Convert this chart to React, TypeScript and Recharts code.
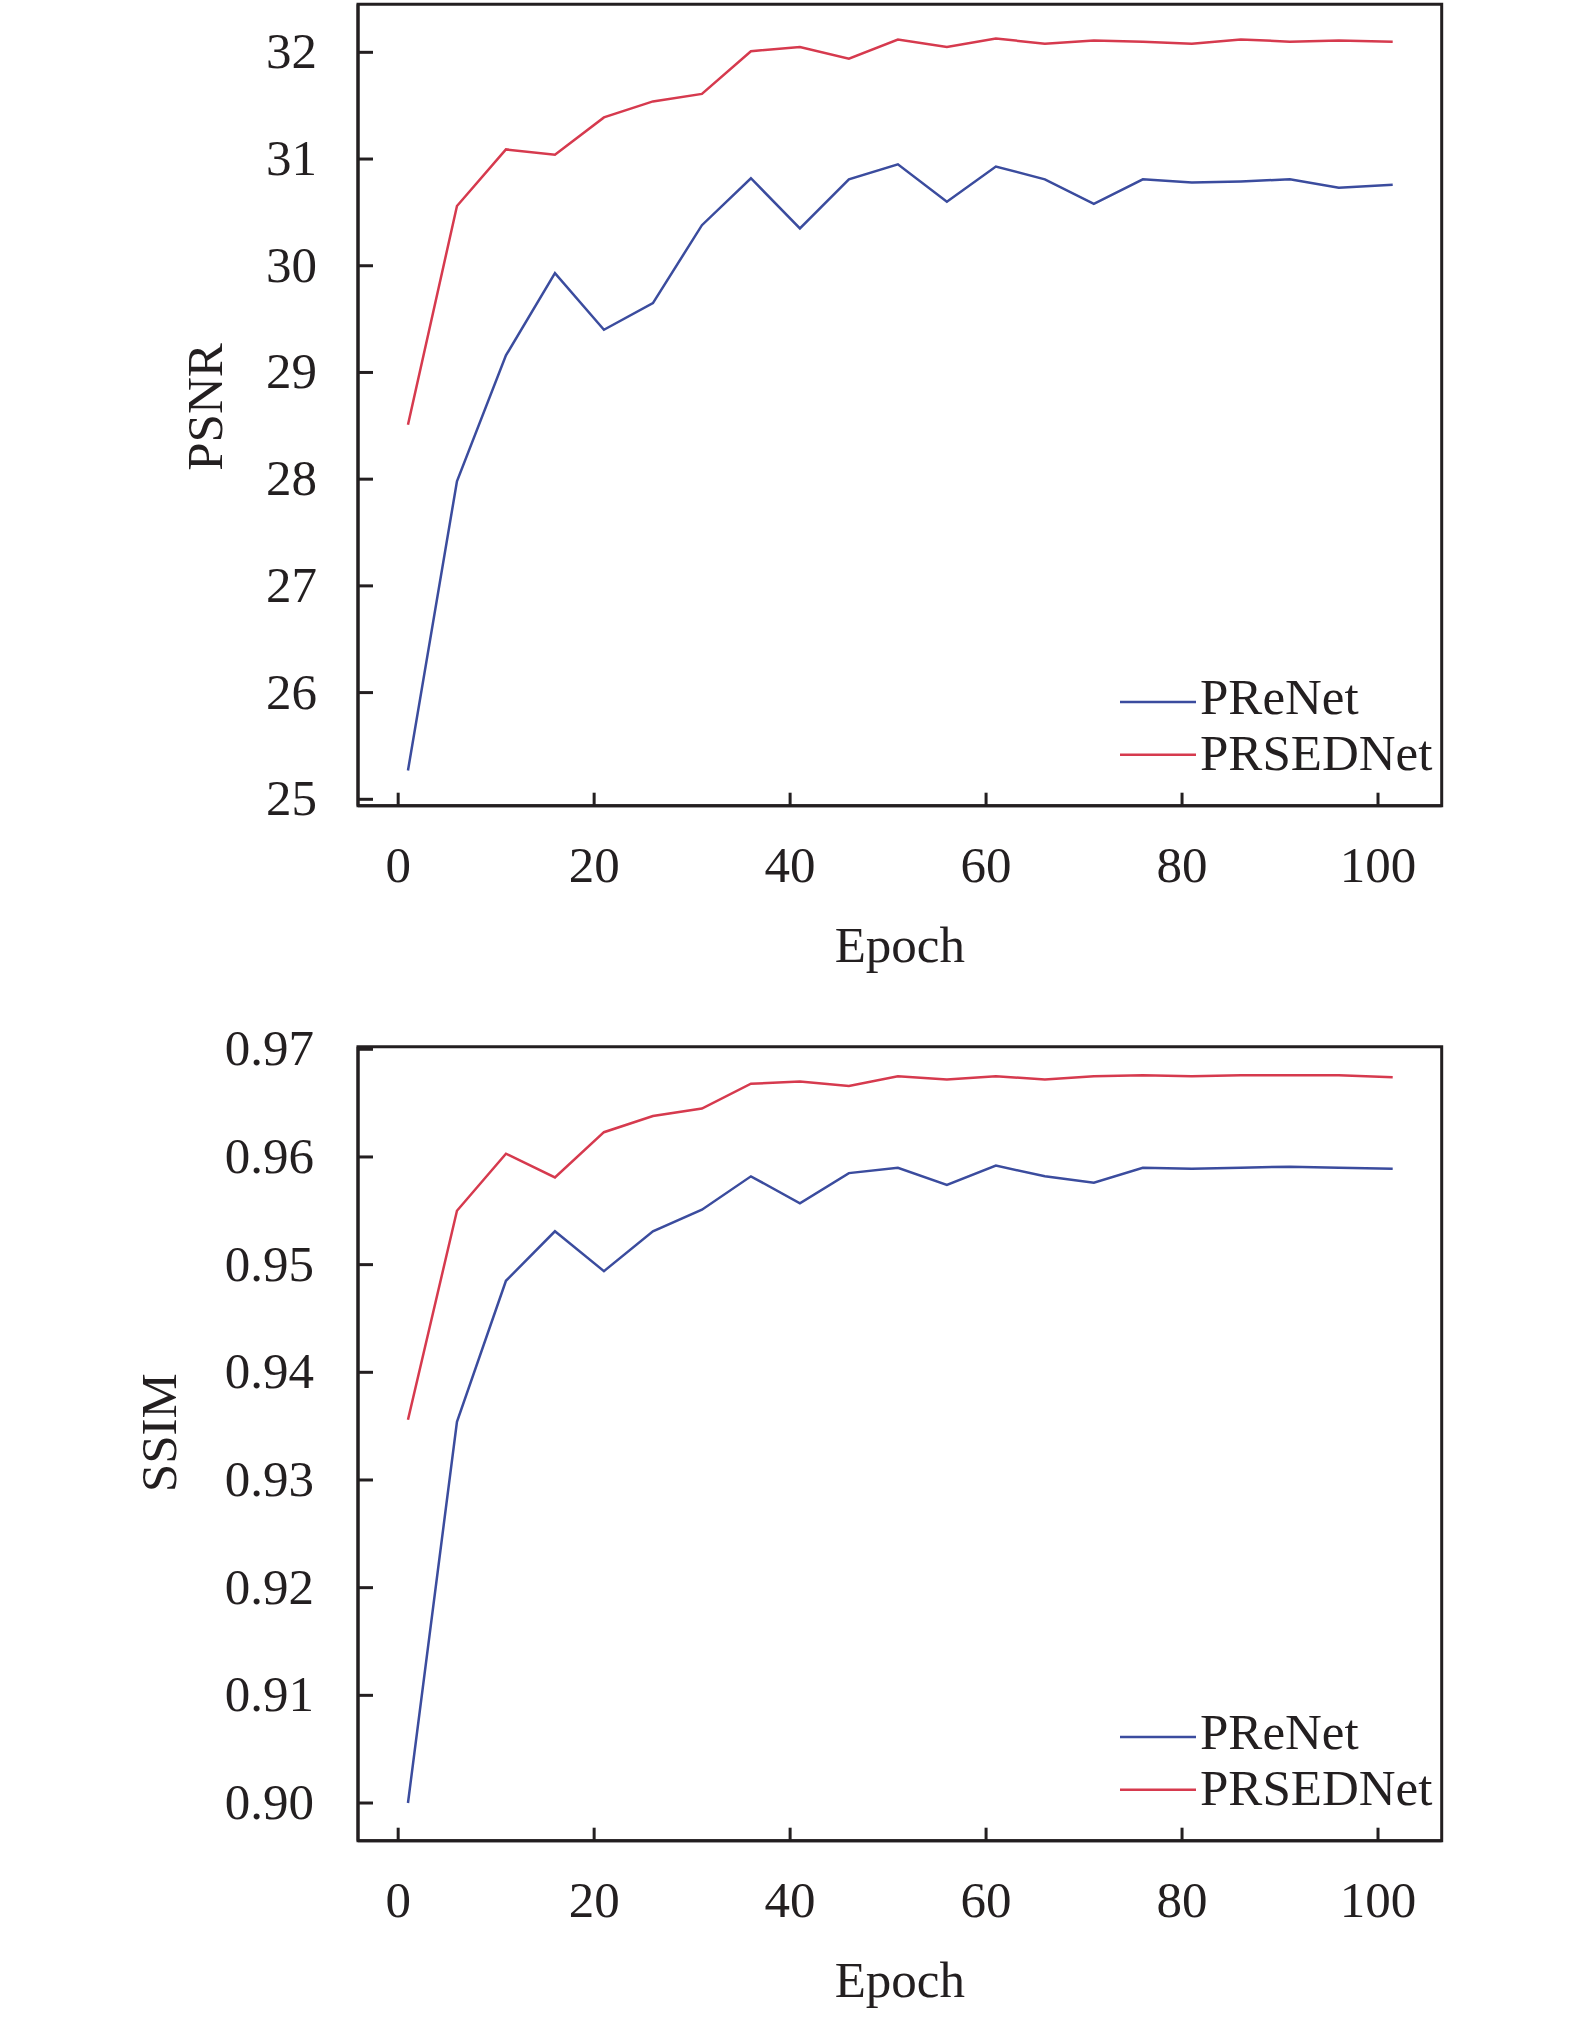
import React from 'react';
import { Legend, Line, LineChart, ReferenceArea, XAxis, YAxis } from 'recharts';

const epochs = [1, 6, 11, 16, 21, 26, 31, 36, 41, 46, 51, 56, 61, 66, 71, 76, 81, 86, 91, 96, 101.5];

const psnrPrenet = [25.27, 27.98, 29.16, 29.93, 29.4, 29.65, 30.38, 30.82, 30.35, 30.81, 30.95, 30.6, 30.93, 30.81, 30.58, 30.81, 30.78, 30.79, 30.81, 30.73, 30.76];
const psnrPrsednet = [28.51, 30.56, 31.09, 31.04, 31.39, 31.54, 31.61, 32.01, 32.05, 31.94, 32.12, 32.05, 32.13, 32.08, 32.11, 32.1, 32.08, 32.12, 32.1, 32.11, 32.1];

const ssimPrenet = [0.9, 0.9354, 0.9485, 0.9531, 0.9494, 0.9531, 0.9551, 0.9582, 0.9557, 0.9585, 0.959, 0.9574, 0.9592, 0.9582, 0.9576, 0.959, 0.9589, 0.959, 0.9591, 0.959, 0.9589];
const ssimPrsednet = [0.9356, 0.955, 0.9603, 0.9581, 0.9623, 0.9638, 0.9645, 0.9668, 0.967, 0.9666, 0.9675, 0.9672, 0.9675, 0.9672, 0.9675, 0.9676, 0.9675, 0.9676, 0.9676, 0.9676, 0.9674];

const epochTicks = [0, 20, 40, 60, 80, 100];
const psnrTicks = [25, 26, 27, 28, 29, 30, 31, 32];
const ssimTicks = [0.9, 0.91, 0.92, 0.93, 0.94, 0.95, 0.96, 0.97];

const seriesNames = ['PReNet', 'PRSEDNet'];

const FONT = '"Liberation Serif", "Times New Roman", serif';
const INK = '#231f20';
const BLUE = '#3b4c9e';
const RED = '#d63a4e';
const X_DOMAIN: [number, number] = [-4.1, 106.5];

const psnrData = epochs.map((epoch, i) => ({ epoch, PReNet: psnrPrenet[i], PRSEDNet: psnrPrsednet[i] }));
const ssimData = epochs.map((epoch, i) => ({ epoch, PReNet: ssimPrenet[i], PRSEDNet: ssimPrsednet[i] }));

const XTick = (props: any) => {
  const { x, y, payload } = props;
  return (
    <g>
      <line x1={x} y1={y} x2={x} y2={y - 13} stroke={INK} strokeWidth={3} />
      <text x={x} y={y + 76} textAnchor="middle" fontSize={51} fontFamily={FONT} fill={INK}>
        {payload.value}
      </text>
    </g>
  );
};

const makeYTick = (gap: number, digits: number) => (props: any) => {
  const { x, y, payload } = props;
  return (
    <g>
      <line x1={x} y1={y} x2={x + 15} y2={y} stroke={INK} strokeWidth={3} />
      <text x={x - gap} y={y + 16} textAnchor="end" fontSize={51} fontFamily={FONT} fill={INK}>
        {Number(payload.value).toFixed(digits)}
      </text>
    </g>
  );
};

// legend keeps the series order (PReNet first), not the alphabetical payload order
const LegendBox = () => {
  const colors = [BLUE, RED];
  const rows = [26, 78.7];
  const dy = [12, 15];
  return (
    <svg width={380} height={110} style={{ overflow: 'visible' }}>
      {seriesNames.map((name, i) => (
        <g key={name}>
          <line x1={0} y1={rows[i]} x2={76} y2={rows[i]} stroke={colors[i]} strokeWidth={2.5} />
          <text x={80} y={rows[i] + dy[i]} fontSize={51} fontFamily={FONT} fill={INK}>
            {name}
          </text>
        </g>
      ))}
    </svg>
  );
};

type PanelProps = {
  data: { epoch: number; PReNet: number; PRSEDNet: number }[];
  top: number;
  height: number;
  marginTop: number;
  xAxisHeight: number;
  yDomain: [number, number];
  yTicks: number[];
  yLabel: string;
  yLabelX: number;
  yLabelShift: number;
  tickGap: number;
  digits: number;
  legendTop: number;
};

const Panel: React.FC<PanelProps> = (p) => {
  const YTick = makeYTick(p.tickGap, p.digits);
  const epochLabel = (props: any) => {
    const vb = props.viewBox || { x: 358, y: 0, width: 1083.7, height: 0 };
    return (
      <text x={vb.x + vb.width / 2} y={vb.y + 156} textAnchor="middle" fontSize={51} fontFamily={FONT} fill={INK}>
        Epoch
      </text>
    );
  };
  const yLabel = (props: any) => {
    const vb = props.viewBox || { x: 0, y: 0, width: 358, height: 800 };
    const cy = vb.y + vb.height / 2 + p.yLabelShift;
    return (
      <text
        x={p.yLabelX}
        y={cy}
        transform={`rotate(-90, ${p.yLabelX}, ${cy})`}
        textAnchor="middle"
        fontSize={51}
        fontFamily={FONT}
        fill={INK}
      >
        {p.yLabel}
      </text>
    );
  };
  return (
    <div style={{ position: 'absolute', left: 0, top: p.top }}>
      <LineChart
        width={1575}
        height={p.height}
        data={p.data}
        margin={{ top: p.marginTop, right: 133.3, left: 0, bottom: 0 }}
      >
        <XAxis
          dataKey="epoch"
          type="number"
          domain={X_DOMAIN}
          ticks={epochTicks}
          interval={0}
          allowDataOverflow
          height={p.xAxisHeight}
          tickSize={0}
          tickMargin={0}
          tickLine={false}
          tick={<XTick />}
          axisLine={{ stroke: INK, strokeWidth: 3 }}
          label={epochLabel}
        />
        <YAxis
          type="number"
          domain={p.yDomain}
          ticks={p.yTicks}
          interval={0}
          allowDataOverflow
          width={358}
          tickSize={0}
          tickMargin={0}
          tickLine={false}
          tick={<YTick />}
          axisLine={{ stroke: INK, strokeWidth: 3 }}
          label={yLabel}
        />
        <ReferenceArea
          x1={X_DOMAIN[0]}
          x2={X_DOMAIN[1]}
          y1={p.yDomain[0]}
          y2={p.yDomain[1]}
          fill="none"
          fillOpacity={0}
          stroke={INK}
          strokeWidth={3}
          ifOverflow="visible"
        />
        <Legend
          layout="vertical"
          align="center"
          verticalAlign="middle"
          content={<LegendBox />}
          wrapperStyle={{ position: 'absolute', left: 1120, top: p.legendTop, width: 380, height: 110 }}
        />
        <Line dataKey="PReNet" name="PReNet" stroke={BLUE} strokeWidth={2.5} dot={false} isAnimationActive={false} />
        <Line dataKey="PRSEDNet" name="PRSEDNet" stroke={RED} strokeWidth={2.5} dot={false} isAnimationActive={false} />
      </LineChart>
    </div>
  );
};

export default function App() {
  return (
    <div style={{ position: 'absolute', left: 0, top: 0, width: 1575, height: 2018, background: '#fff' }}>
      <Panel
        data={psnrData}
        top={0}
        height={1010}
        marginTop={4.3}
        xAxisHeight={204.3}
        yDomain={[24.94, 32.45]}
        yTicks={psnrTicks}
        yLabel="PSNR"
        yLabelX={222}
        yLabelShift={2}
        tickGap={41}
        digits={0}
        legendTop={676}
      />
      <Panel
        data={ssimData}
        top={1010}
        height={1008}
        marginTop={36.7}
        xAxisHeight={177.3}
        yDomain={[0.8965, 0.97024]}
        yTicks={ssimTicks}
        yLabel="SSIM"
        yLabelX={176}
        yLabelShift={-11}
        tickGap={44}
        digits={2}
        legendTop={700.7}
      />
    </div>
  );
}
